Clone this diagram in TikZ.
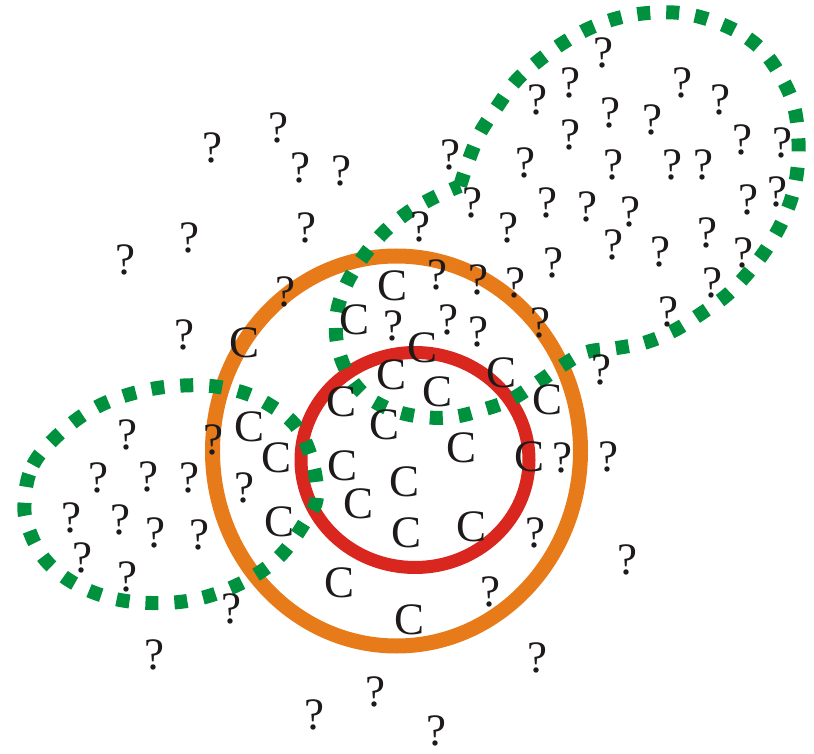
\documentclass[tikz,border=0pt]{standalone}
\usepackage{fontspec}
\setmainfont{Liberation Serif}
\definecolor{orng}{HTML}{E77B1A}
\definecolor{rd}{HTML}{D9261F}
\definecolor{grn}{HTML}{00913F}
\definecolor{ink}{HTML}{1E1A1A}
\begin{document}
\begin{tikzpicture}[x=1pt,y=-1pt,
  ring/.style={line width=#1},
  greendash/.style={draw=grn,line width=14pt,dash pattern=on 13pt off 16pt},
  lettr/.style={inner sep=0pt,text=ink,font=\fontsize{45}{45}\selectfont}]
\useasboundingbox (0,0) rectangle (814,754);
% orange and red rings
\draw[orng,ring=15pt] (396.5,451) ellipse [x radius=184pt, y radius=195pt];
\draw[rd,ring=13pt] (415,460) ellipse [x radius=114pt, y radius=107.5pt];
% green left lobe
\draw[greendash] plot[smooth cycle,tension=0.65] coordinates {
 (25,497) (33,465) (55,438) (88,412) (127,395) (175,386) (225,388) (268,404)
 (302,435) (317,490) (305,522) (270,565) (212,595) (152,603) (95,593) (50,565) (28,527)};
% green upper-right shape
\draw[greendash] plot[smooth,tension=0.6] coordinates {
 (460,186) (468,162) (480,133) (497,107) (515,82) (537,62) (563,43) (590,28)
 (618,18) (648,13) (680,13) (710,20) (738,32) (762,50) (780,75) (793,103)
 (798,133) (798,163) (793,193) (782,222) (767,248) (748,273) (727,295) (702,313)
 (675,330) (647,342) (617,348) (587,352) (563,365) (537,383) (510,400) (482,410)
 (453,417) (423,417) (392,410) (365,395) (347,372) (337,343) (337,312) (347,283)
 (363,257) (383,233) (407,213) (433,198) (460,186)};
% question marks
\foreach \px/\py [count=\i] in {
 212/148, 278/128, 300/168, 341/171, 189/238, 306/228, 125/260, 285/292, 184/335,
 393/326, 437/275, 478/280, 515/283, 448/320, 478/332, 540/323,
 603/53, 570/83, 537/100, 682/83, 720/100, 610/113, 652/120, 570/135, 450/155,
 525/163, 613/165, 672/165, 703/165, 742/140, 782/143, 472/203, 547/203, 587/207,
 630/212, 748/200, 777/192, 420/227, 508/228, 613/245, 660/252, 707/233, 743/253,
 553/263, 712/283, 668/312, 601/370,
 127/435, 98/478, 148/477, 189/478, 71/518, 120/520, 155/533, 199/535, 82/558, 127/577,
 213/440, 244/488, 231/609, 154/655, 375/692, 314/715, 436/731, 537/658, 490/592,
 535/533, 627/560, 608/457, 562/458}
 \node[lettr] (q\i) at (\px,\py) {?};
% letters C
\foreach \px/\py [count=\i] in {
 393/286, 355/320, 245/343, 423/348, 392/375, 502/373, 438/392, 342/402, 548/400,
 250/427, 385/425, 277/458, 462/448, 530/457, 343/466, 405/482, 359/504, 280/522,
 407/533, 472/527, 340/583, 410/620}
 \node[lettr] (c\i) at (\px,\py) {C};
\end{tikzpicture}
\end{document}
